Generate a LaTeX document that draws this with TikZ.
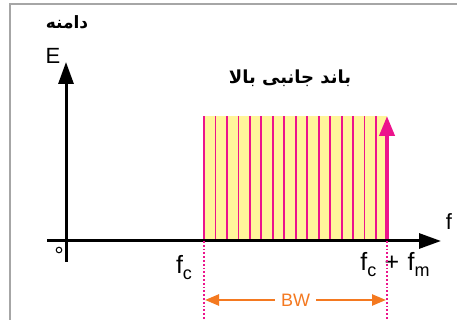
\documentclass[tikz,border=0pt]{standalone}
\usepackage{fontspec}
\setmainfont{Liberation Sans}
\newfontfamily\arabicfont[Script=Arabic]{DejaVu Sans}
\TeXXeTstate=1
\usetikzlibrary{positioning}
\usetikzlibrary{arrows.meta}
\definecolor{bandyellow}{RGB}{255,245,155}
\definecolor{bandpink}{RGB}{236,20,140}
\definecolor{bworange}{RGB}{244,121,32}
\tikzset{axis/.style = {line width=3pt, -{Triangle[length=22pt,width=15pt]}}}
\tikzset{lbl/.style = {font=\fontsize{22}{24}\selectfont, inner sep=0}}
\tikzset{flbl/.style = {font=\fontsize{25}{28}\selectfont, inner sep=0}}
\tikzset{fa/.style = {font=\arabicfont\bfseries\fontsize{17}{20}\selectfont, inner sep=0}}
\newcommand{\sub}[1]{\raisebox{-6pt}{\fontsize{18}{20}\selectfont #1}}

\begin{document}
\begin{tikzpicture}[x=1pt,y=1pt]
      \useasboundingbox (0,0) rectangle (457,320);
      \draw[gray!70, line width=1.5pt] (10,0) -- (10,316) -- (457,316);

      \node[fa] (amp) at (67,298) {\beginR دامنه\endR};
      \node[fa, font=\arabicfont\bfseries\fontsize{18}{22}\selectfont] (usb) at (290,242) {\beginR باند جانبی بالا\endR};

      % band
      \coordinate (fc) at (204,79);
      \coordinate (fcm) at (387,79);
      \fill[bandyellow] (fc) rectangle (387,204);
      \foreach \i in {0,...,15}
        \draw[bandpink, line width=1.8pt] (204+\i*11.47,79) -- (204+\i*11.47,204);
      \draw[bandpink, line width=4pt, -{Triangle[length=20pt,width=15pt]}] (fcm) -- (387,204);

      % axes
      \coordinate (xs) at (47,79);
      \coordinate (xe) at (441,79);
      \coordinate (ys) at (66,58);
      \coordinate (ye) at (66,258);
      \draw[axis] (xs) -- (xe);
      \draw[axis] (ys) -- (ye);
      \node[lbl] (E) at (53,264) {E};
      \node[lbl] (f) at (449,98) {f};
      \draw[line width=1pt] (59,70) circle (2.8pt);

      \node[flbl] (fclbl) at (184,52) {f\sub{c}};
      \node[flbl] (fcmlbl) at (395,55) {f\sub{c}\,\,+\,\,f\sub{m}};

      % bandwidth
      \coordinate (bl) at (204,0);
      \coordinate (br) at (387,0);
      \draw[bandpink, line width=1.8pt, dotted] (fc) -- (bl);
      \draw[bandpink, line width=1.8pt, dotted] (fcm) -- (br);
      \coordinate (bwl) at (205,20);
      \coordinate (bwr) at (386,20);
      \draw[bworange, line width=2.5pt, {Triangle[length=14pt,width=11pt]}-{Triangle[length=14pt,width=11pt]}] (bwl) -- (bwr)
        node[midway, fill=white, text=bworange, font=\fontsize{18}{20}\selectfont, inner xsep=6pt] (bw) {BW};
    \end{tikzpicture}
\end{document}
